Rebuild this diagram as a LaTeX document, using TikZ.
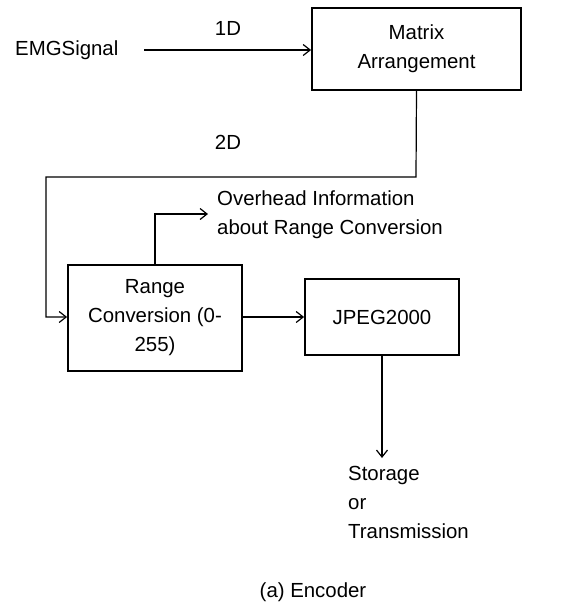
\documentclass[tikz,border=0pt]{standalone}
\usepackage{fontspec}
\setmainfont{Liberation Sans}
\usetikzlibrary{arrows.meta}
\begin{document}
\begin{tikzpicture}[x=1pt,y=-1pt,
  every node/.style={font=\fontsize{20.4}{29}\selectfont, inner sep=0pt},
  blk/.style={draw, line width=1.8pt, minimum width=#1, align=center},
  conn/.style={line width=1.2pt, -{Straight Barb[length=7pt,width=11pt,line width=1.2pt]}},
  lbl/.style={align=center}]
\useasboundingbox (0,0) rectangle (566,606);
\node[blk=209pt, minimum height=82pt] (mat) at (416.5,49) {Matrix\\Arrangement};
\node[anchor=west] (emg) at (15,50) {EMGSignal};
\node (l1) at (228,28) {1D};
\node (l2) at (228,142) {2D};
\node[blk=174pt, minimum height=106pt] (rng) at (155,318) {Range\\Conversion (0-\\255)};
\node[blk=154pt, minimum height=76pt] (jpg) at (382,317) {JPEG2000};
\node[anchor=west, align=left] (ovh) at (217,214.5) {Overhead Information\\about Range Conversion};
\node[anchor=north west, align=left] (sto) at (348,466) {Storage\\or\\Transmission};
\node (cap) at (313,592) {(a) Encoder};
\coordinate (e1) at (144,50);
\coordinate (c1) at (416,177);
\coordinate (c2) at (46,177);
\coordinate (c3) at (46,317);
\coordinate (o1) at (155,214);
\coordinate (o2) at (208,214);
\coordinate (s1) at (382,458);
\draw[conn] (e1) -- (mat.west |- e1);
\draw[conn] (mat.south) -- (c1) -- (c2) -- (c3) -- (rng.west |- c3);
\draw[conn] (rng.north -| o1) -- (o1) -- (o2);
\draw[conn] (rng.east |- jpg.west) -- (jpg.west);
\draw[conn] (jpg.south) -- (s1);
\end{tikzpicture}
\end{document}
